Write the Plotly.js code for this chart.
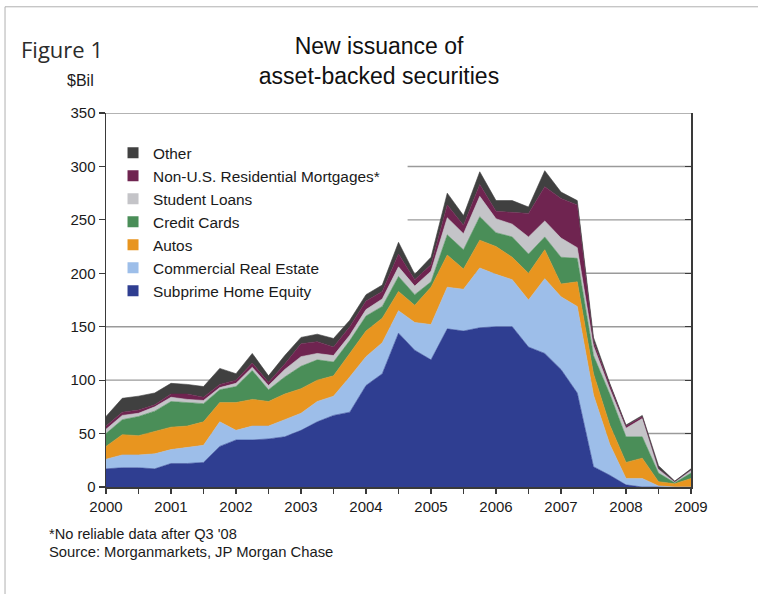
<!DOCTYPE html>
<html>
<head>
<meta charset="utf-8">
<script src="https://cdn.plot.ly/plotly-3.0.1.min.js"></script>
<style>
  html, body { margin: 0; padding: 0; background: #ffffff; }
  #chart { width: 758px; height: 594px; }
</style>
</head>
<body>
<div id="chart"></div>
<script>
// Quarterly positions (decimal years), Q1 2000 .. Q1 2009
const quarters = [2000, 2000.25, 2000.5, 2000.75, 2001, 2001.25, 2001.5, 2001.75,
  2002, 2002.25, 2002.5, 2002.75, 2003, 2003.25, 2003.5, 2003.75,
  2004, 2004.25, 2004.5, 2004.75, 2005, 2005.25, 2005.5, 2005.75,
  2006, 2006.25, 2006.5, 2006.75, 2007, 2007.25, 2007.5, 2007.75,
  2008, 2008.25, 2008.5, 2008.75, 2009];

// New issuance, $ billions
const subprimeHomeEquity = [17,18,18,17,22,22,23,38,44,44,45,47,53,61,67,70,95,106,144,128,119,148,146,149,150,150,131,125,110,88,19,11,2,0,0,0,0];
const commercialRealEstate = [9,12,12,14,13,15,16,23,9,13,12,16,16,19,18,33,27,29,21,26,33,39,39,56,49,44,44,70,68,81,67,29,6,8,1,0,0];
const autos = [12,19,18,21,21,20,22,18,26,25,23,24,23,20,19,22,24,23,18,16,35,30,19,26,26,21,25,27,12,23,20,18,15,19,4,3,8];
const creditCards = [12,14,18,19,24,22,17,12,15,27,11,16,21,19,13,12,14,11,14,10,5,19,18,22,13,19,18,12,25,22,17,29,24,20,8,1,5];
const studentLoans = [4,4,3,4,4,3,3,2,3,3,4,7,9,6,6,5,6,7,9,8,10,16,15,19,13,12,16,15,18,10,9,5,8,17,4,1,3];
const nonUSResidential = [3,3,3,2,3,5,3,3,3,4,3,5,12,11,8,8,8,7,12,6,6,12,8,11,7,11,22,32,37,40,4,4,2,2,0,0,0];
const other = [9,13,13,11,10,9,10,15,6,9,6,8,6,7,8,6,6,6,11,5,7,11,9,12,10,11,6,15,6,4,4,1,1,1,3,0.5,1];

const seriesNames = ['Subprime Home Equity', 'Commercial Real Estate', 'Autos', 'Credit Cards',
  'Student Loans', 'Non-U.S. Residential Mortgages*', 'Other'];
const seriesColors = ['#2f3e91', '#9dbee9', '#e8951f', '#4a8e58', '#c4c4c8', '#6f2450', '#404040'];

const yearTicks = [2000, 2001, 2002, 2003, 2004, 2005, 2006, 2007, 2008, 2009];
const yearLabels = ['2000', '2001', '2002', '2003', '2004', '2005', '2006', '2007', '2008', '2009'];
const valueTicks = [0, 50, 100, 150, 200, 250, 300, 350];

const seriesValues = [subprimeHomeEquity, commercialRealEstate, autos, creditCards,
  studentLoans, nonUSResidential, other];

const traces = [];
seriesValues.forEach(function (vals, i) {
  traces.push({
    type: 'scatter',
    x: quarters,
    y: vals,
    name: seriesNames[i],
    stackgroup: 'abs',
    mode: 'lines',
    line: { width: 0.6, color: seriesColors[i], shape: 'linear' },
    fillcolor: seriesColors[i],
    showlegend: false,
    hoverinfo: 'x+y+name'
  });
});

// Legend entries (square swatches), top to bottom: Other ... Subprime
for (let i = seriesNames.length - 1; i >= 0; i--) {
  traces.push({
    type: 'scatter',
    x: [null],
    y: [null],
    name: seriesNames[i],
    mode: 'markers',
    marker: { symbol: 'square', size: 11, color: seriesColors[i] },
    showlegend: true,
    hoverinfo: 'skip'
  });
}

// Invisible trace to carry the right-hand mirrored axis
traces.push({
  type: 'scatter', x: [null], y: [null], yaxis: 'y2',
  mode: 'markers', showlegend: false, hoverinfo: 'skip'
});

const axisColor = '#3a3a3a';
const gridColor = '#9a9a9a';
const fontFam = 'Liberation Sans, Arial, Helvetica, sans-serif';

// Horizontal gridlines, drawn under the areas; the ones behind the legend panel start right of it
const legendPanelEnd = 2004.64;
const gridShapes = valueTicks.filter(function (v) { return v > 0; }).map(function (v) {
  return {
    type: 'line', xref: 'x', yref: 'y', layer: 'below',
    x0: (v >= 200 && v <= 300) ? legendPanelEnd : 2000, x1: 2009,
    y0: v, y1: v,
    line: { color: gridColor, width: 1.4 }
  };
});

const layout = {
  width: 758,
  height: 594,
  paper_bgcolor: '#ffffff',
  plot_bgcolor: '#ffffff',
  margin: { l: 106, r: 67, t: 113, b: 107 },
  font: { family: fontFam, color: '#1a1a1a', size: 15 },
  title: {
    text: 'New issuance of<br>asset-backed securities',
    x: 0.5, xanchor: 'center',
    y: 0.909, yanchor: 'top',
    font: { family: fontFam, size: 23, color: '#111111' }
  },
  showlegend: true,
  legend: {
    x: 0.012, xanchor: 'left',
    y: 0.938, yanchor: 'top',
    bgcolor: 'rgba(0,0,0,0)',
    borderwidth: 0,
    traceorder: 'normal',
    font: { family: fontFam, size: 15.4, color: '#1a1a1a' },
    itemwidth: 30
  },
  xaxis: {
    range: [2000, 2009],
    tickvals: yearTicks,
    ticktext: yearLabels,
    ticks: 'outside',
    ticklen: 5,
    tickwidth: 1.2,
    tickcolor: axisColor,
    minor: { dtick: 0.5, tick0: 2000, ticks: 'outside', ticklen: 5, tickwidth: 1.2, tickcolor: axisColor, showgrid: false },
    showgrid: false,
    zeroline: false,
    showline: true,
    linecolor: axisColor,
    linewidth: 1.5,
    tickfont: { family: fontFam, size: 15, color: '#1a1a1a' },
    fixedrange: true
  },
  yaxis: {
    range: [0, 350],
    tickvals: valueTicks,
    ticks: 'outside',
    ticklen: 6,
    tickwidth: 1.2,
    tickcolor: axisColor,
    showgrid: false,
    zeroline: false,
    showline: true,
    linecolor: axisColor,
    linewidth: 1.5,
    tickfont: { family: fontFam, size: 15, color: '#1a1a1a' },
    fixedrange: true
  },
  yaxis2: {
    overlaying: 'y',
    side: 'right',
    anchor: 'x',
    range: [0, 350],
    tickvals: valueTicks,
    ticks: 'inside',
    ticklen: 6,
    tickwidth: 1.2,
    tickcolor: axisColor,
    showticklabels: false,
    showgrid: false,
    zeroline: false,
    showline: true,
    linecolor: axisColor,
    linewidth: 1.5,
    fixedrange: true
  },
  annotations: [
    { text: 'Figure 1', xref: 'paper', yref: 'paper', x: -0.148, y: 1.172,
      xanchor: 'left', yanchor: 'middle', showarrow: false,
      font: { family: 'Open Sans, DejaVu Sans, sans-serif', size: 22, color: '#2b2b2b' } },
    { text: '$Bil', xref: 'paper', yref: 'paper', x: -0.017, y: 1.086,
      xanchor: 'right', yanchor: 'middle', showarrow: false,
      font: { family: fontFam, size: 16, color: '#1a1a1a' } },
    { text: "*No reliable data after Q3 '08", xref: 'paper', yref: 'paper', x: -0.101, y: -0.126,
      xanchor: 'left', yanchor: 'middle', showarrow: false,
      font: { family: fontFam, size: 14.6, color: '#1a1a1a' } },
    { text: 'Source: Morganmarkets, JP Morgan Chase', xref: 'paper', yref: 'paper', x: -0.101, y: -0.174,
      xanchor: 'left', yanchor: 'middle', showarrow: false,
      font: { family: fontFam, size: 14.8, color: '#1a1a1a' } }
  ],
  shapes: gridShapes.concat([
    { type: 'line', xref: 'paper', yref: 'paper', x0: -0.1726, x1: 1.12, y0: 1.284, y1: 1.284,
      line: { color: '#b0b0b0', width: 1 } },
    { type: 'line', xref: 'paper', yref: 'paper', x0: -0.1726, x1: -0.1726, y0: 1.284, y1: -0.3,
      line: { color: '#b0b0b0', width: 1 } }
  ])
};

Plotly.newPlot('chart', traces, layout, { staticPlot: true, displayModeBar: false });
</script>
</body>
</html>
